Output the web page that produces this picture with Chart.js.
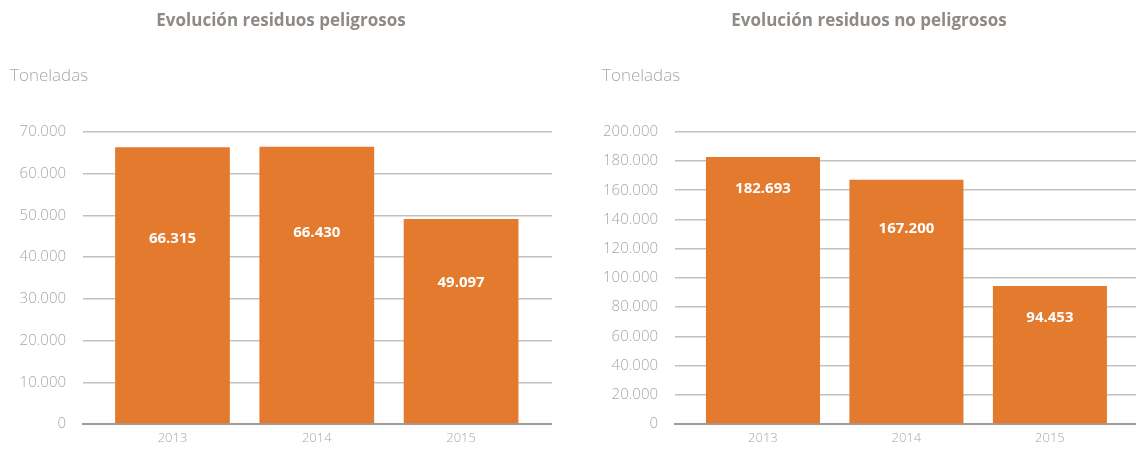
<!DOCTYPE html>
<html>
<head>
<meta charset="utf-8">
<script src="https://cdn.jsdelivr.net/npm/chart.js@4.4.1/dist/chart.umd.min.js"></script>
<style>
  html, body { margin: 0; padding: 0; background: #ffffff; }
  body { width: 1136px; height: 450px; position: relative; overflow: hidden; }
  .box { position: absolute; top: 0; height: 450px; }
  #b1 { left: 0; width: 552px; }
  #b2 { left: 600px; width: 536px; }
</style>
</head>
<body>
<div class="box" id="b1"><canvas id="c1"></canvas></div>
<div class="box" id="b2"><canvas id="c2"></canvas></div>
<script>
// ---- data ----
const years = ['2013', '2014', '2015'];
const peligrosos = [66315, 66430, 49097];
const noPeligrosos = [182693, 167200, 94453];
const titles = ['Evolución residuos peligrosos', 'Evolución residuos no peligrosos'];
const unitLabel = 'Toneladas';
const yMaxLeft = 70000, yStepLeft = 10000;
const yMaxRight = 200000, yStepRight = 20000;

// ---- style ----
const ORANGE = '#E47A2E';
const GRID = '#C4C1BC';
const AXIS = '#A09D99';
const TICK = '#ABA7A2';
const TITLE = '#8F8A85';
const FONT = "'Open Sans', 'Lato', sans-serif";

function fmt(v) {
  return v.toLocaleString('de-DE');
}

const barLabels = {
  id: 'barLabels',
  afterDatasetsDraw(chart, args, opts) {
    const ctx = chart.ctx;
    const meta = chart.getDatasetMeta(0);
    const ds = chart.data.datasets[0];
    ctx.save();
    ctx.fillStyle = '#ffffff';
    ctx.font = "bold 15px " + FONT;
    ctx.textAlign = 'center';
    ctx.textBaseline = 'middle';
    meta.data.forEach((bar, i) => {
      const top = bar.y, bottom = bar.base;
      const f = opts.fractions[i];
      ctx.fillText(fmt(ds.data[i].y), bar.x, top + (bottom - top) * f);
    });
    ctx.restore();
  }
};

function makeChart(id, values, title, yMax, yStep, padLeft, xMin, xMax, fractions) {
  const pts = years.map((y, i) => ({ x: i, y: values[i] }));
  return new Chart(document.getElementById(id), {
    type: 'bar',
    data: {
      datasets: [{
        data: pts,
        backgroundColor: ORANGE,
        borderWidth: 0,
        categoryPercentage: 1,
        barPercentage: 0.795
      }]
    },
    plugins: [barLabels],
    options: {
      responsive: true,
      maintainAspectRatio: false,
      animation: false,
      layout: { padding: { left: padLeft, right: 0, top: 0, bottom: 0 } },
      plugins: {
        legend: { display: false },
        tooltip: { enabled: false },
        title: {
          display: true,
          text: title,
          color: TITLE,
          font: { family: FONT, size: 17, weight: 'bold' },
          padding: { top: 11, bottom: 35 }
        },
        subtitle: {
          display: true,
          text: unitLabel,
          align: 'start',
          color: TICK,
          font: { family: FONT, size: 17, weight: 300 },
          padding: { top: 0, bottom: 45 }
        },
        barLabels: { fractions: fractions }
      },
      scales: {
        x: {
          type: 'linear',
          min: xMin,
          max: xMax,
          offset: false,
          grid: { display: false, drawTicks: false, offset: false },
          border: { display: true, color: AXIS, width: 2 },
          afterFit(scale) { scale.height = 24; },
          ticks: {
            stepSize: 1,
            includeBounds: false,
            autoSkip: false,
            maxRotation: 0,
            padding: 6,
            color: TICK,
            font: { family: FONT, size: 13, weight: 300 },
            callback: (v) => (Number.isInteger(v) && years[v] !== undefined) ? years[v] : ''
          }
        },
        y: {
          min: 0,
          max: yMax,
          grid: { color: GRID, lineWidth: 1.5, drawTicks: false },
          border: { display: false },
          afterFit(scale) { scale.width = 73; },
          ticks: {
            stepSize: yStep,
            padding: 17,
            color: TICK,
            font: { family: FONT, size: 15, weight: 300 },
            callback: (v) => fmt(v)
          }
        }
      }
    }
  });
}

makeChart('c1', peligrosos, titles[0], yMaxLeft, yStepLeft, 10, -0.62, 2.63, [0.33, 0.31, 0.31]);
makeChart('c2', noPeligrosos, titles[1], yMaxRight, yStepRight, 2, -0.613, 2.60, [0.12, 0.2, 0.23]);
</script>
</body>
</html>
